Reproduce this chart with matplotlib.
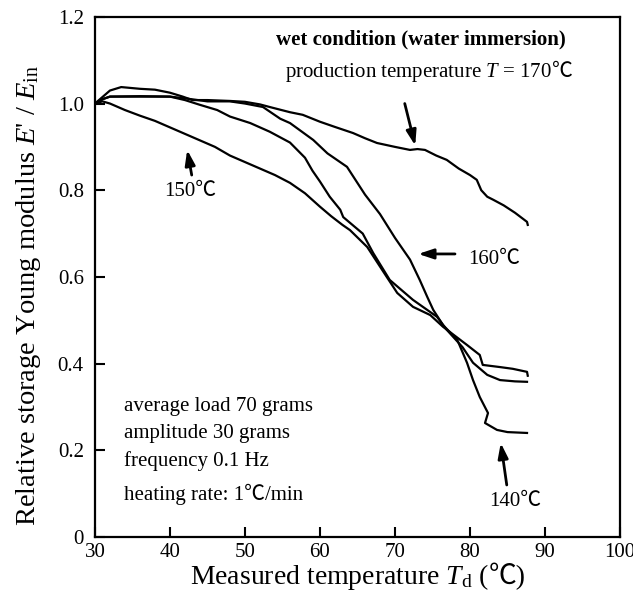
import matplotlib
matplotlib.use("Agg")
import matplotlib.pyplot as plt
from matplotlib.transforms import offset_copy

plt.rcParams['font.family'] = ['Liberation Serif', 'Noto Sans CJK JP', 'DejaVu Serif']
plt.rcParams['mathtext.fontset'] = 'custom'
plt.rcParams['mathtext.rm'] = 'Liberation Serif'
plt.rcParams['mathtext.it'] = 'Liberation Serif:italic'
plt.rcParams['mathtext.bf'] = 'Liberation Serif:bold'

# ---- data ----
x_170 = [30, 31, 32, 33.5, 36, 38, 40, 41.7, 43, 45, 48, 50, 52, 53.3, 56, 57.7, 60, 62, 64.4, 66,
         67.6, 70, 72, 73, 74, 75.5, 76.9, 78.5, 80, 80.9, 81.5, 82.3, 83.1, 84.5, 86, 87.6, 87.7]
y_170 = [1.0, 1.015, 1.03, 1.038, 1.034, 1.032, 1.025, 1.016, 1.008, 1.008, 1.006, 1.004, 0.998, 0.992,
         0.98, 0.974, 0.958, 0.946, 0.932, 0.92, 0.909, 0.9, 0.893, 0.895, 0.893, 0.88, 0.87, 0.85, 0.835,
         0.824, 0.8, 0.785, 0.778, 0.765, 0.748, 0.727, 0.72]

x_160 = [30, 31, 32, 36, 40, 42, 44, 46.3, 48, 50.7, 53.3, 56, 58, 59, 60, 61.3, 62.7, 63.1, 65.7,
         67.1, 69.3, 72.4, 75.6, 76.9, 79, 80.4, 82.3, 84, 86, 87.6]
y_160 = [1.0, 1.01, 1.016, 1.017, 1.016, 1.008, 0.997, 0.985, 0.97, 0.955, 0.935, 0.91, 0.875, 0.845,
         0.82, 0.785, 0.755, 0.738, 0.70, 0.655, 0.593, 0.547, 0.508, 0.478, 0.438, 0.402, 0.374, 0.362,
         0.359, 0.358]

x_150 = [30, 31, 32, 34, 36, 38, 40, 42, 44, 46, 48, 50, 52, 54, 56, 58, 60, 61.5, 63, 64, 66.3, 68.9,
         70.3, 72.4, 74.7, 76.4, 79.6, 81.3, 81.7, 84, 85.7, 87.6, 87.7]
y_150 = [1.0, 1.005, 1.0, 0.985, 0.972, 0.96, 0.945, 0.93, 0.915, 0.9, 0.88, 0.865, 0.85, 0.835, 0.817,
         0.793, 0.762, 0.74, 0.72, 0.708, 0.669, 0.60, 0.563, 0.531, 0.512, 0.485, 0.443, 0.42, 0.397,
         0.392, 0.388, 0.381, 0.372]

x_140 = [30, 31, 32, 36, 40, 42, 45, 48, 50, 52.4, 54.7, 56, 59.1, 61, 63.6, 66, 68, 70, 72, 73.3,
         74.3, 75.1, 76.4, 78.3, 79.6, 80.4, 81.3, 82.4, 82.0, 83.6, 85, 87.6]
y_140 = [1.0, 1.01, 1.016, 1.016, 1.016, 1.012, 1.005, 1.005, 1.0, 0.992, 0.965, 0.955, 0.916, 0.885,
         0.854, 0.79, 0.745, 0.69, 0.64, 0.593, 0.554, 0.524, 0.489, 0.455, 0.402, 0.362, 0.323, 0.286,
         0.263, 0.247, 0.242, 0.24]

xticks = [30, 40, 50, 60, 70, 80, 90, 100]
yticks = [0, 0.2, 0.4, 0.6, 0.8, 1.0, 1.2]
ytick_labels = ['0', '0.2', '0.4', '0.6', '0.8', '1.0', '1.2']

fig = plt.figure(figsize=(6.33, 6.02), dpi=100)
ax = fig.add_axes([0.150, 0.108, 0.8295, 0.864])
renderer = fig.canvas.get_renderer()


def rich(x, y, pieces, transform, ha='left', va='baseline', **kw):
    """Place text pieces side by side on one baseline."""
    texts, widths = [], []
    for s, extra in pieces:
        t = fig.text(0, 0, s, transform=transform, va=va, ha='left', **kw, **extra)
        texts.append(t)
    for t in texts:
        widths.append(t.get_window_extent(renderer).width)
    total = sum(widths)
    start = {'left': 0, 'center': -total / 2, 'right': -total}[ha]
    off = start
    for t, w in zip(texts, widths):
        t.set_position((x, y))
        t.set_transform(offset_copy(transform, fig=fig, x=off, y=0, units='dots'))
        off += w
    return texts


for xs, ys in [(x_170, y_170), (x_160, y_160), (x_150, y_150), (x_140, y_140)]:
    ax.plot(xs, ys, color='black', lw=1.6, solid_joinstyle='round')

ax.set_xlim(30, 100)
ax.set_ylim(0, 1.2)
ax.set_xticks(xticks)
ax.set_xticklabels([str(v) for v in xticks])
ax.set_yticks(yticks)
ax.set_yticklabels(ytick_labels)
ax.tick_params(direction='in', length=7, width=1.5, labelsize=15)
ax.tick_params(axis='x', pad=4)
ax.tick_params(axis='y', pad=8)
for s in ax.spines.values():
    s.set_linewidth(1.6)

# x label (pieces so that the Celsius sign can use a fallback font)
rich(0.150 + 0.8295 / 2, 0.030,
     [("Measured temperature $T_{\\mathrm{d}}$ (", {}), ("\u2103)", {})],
     fig.transFigure, ha='center', fontsize=20)
ax.set_ylabel("Relative storage Young modulus $E$' / $E_{\\mathrm{in}}$", fontsize=20.5)
ax.yaxis.set_label_coords(-0.098, 0.465)

fs = 15
ax.text(54.1, 1.147, "wet condition (water immersion)", fontsize=fs, fontweight='bold', va='center')
rich(55.3, 1.061, [("production temperature $T$ = 170", {}), ("\u2103", {})], ax.transData, fontsize=fs)
ax.text(42.7, 0.796, "150\u2103", fontsize=fs, ha='center', va='center')
ax.text(79.7, 0.64, "160\u2103", fontsize=fs, va='center')
ax.text(86.0, 0.081, "140\u2103", fontsize=fs, ha='center', va='center')

arrow = dict(arrowstyle='-|>,head_length=0.9,head_width=0.3', color='black', lw=2.0, shrinkA=0, shrinkB=0)
ax.annotate("", xy=(72.7, 0.903), xytext=(71.3, 1.0), arrowprops=arrow)
ax.annotate("", xy=(42.3, 0.893), xytext=(42.9, 0.835), arrowprops=arrow)
ax.annotate("", xy=(73.1, 0.653), xytext=(78.0, 0.653), arrowprops=arrow)
ax.annotate("", xy=(84.1, 0.217), xytext=(84.9, 0.12), arrowprops=arrow)

notes = ["average load 70 grams", "amplitude 30 grams", "frequency 0.1 Hz"]
for i, t in enumerate(notes):
    ax.text(33.9, 0.30 - i * 0.062, t, fontsize=fs, va='center')
ax.text(33.9, 0.099, "heating rate: 1\u2103/min", fontsize=fs, va='center')

fig.savefig("out.png", dpi=100)
